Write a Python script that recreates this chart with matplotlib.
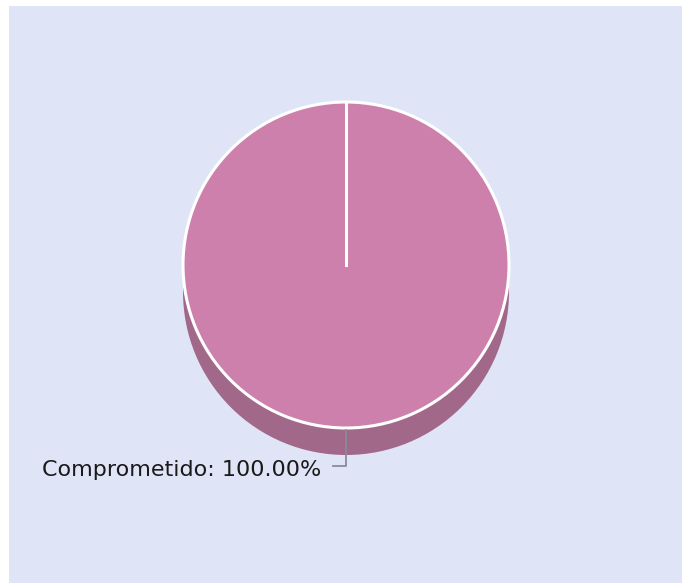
import matplotlib.pyplot as plt
from matplotlib.patches import Circle, Rectangle, Wedge

# data
labels = ["Comprometido"]
values = [100.0]
colors = ["#cd80ab"]
shade_colors = ["#a2688a"]

W, H = 684, 583
fig = plt.figure(figsize=(W / 100, H / 100), dpi=100)
ax = fig.add_axes([0, 0, 1, 1])
ax.set_xlim(0, W)
ax.set_ylim(H, 0)
ax.axis("off")

# plot area background
ax.add_patch(Rectangle((9, 6), 673, 580, facecolor="#e0e4f7", edgecolor="none"))

cx, cy, r, depth = 346, 265, 163, 27
total = sum(values)

# 3D side
start = 90
for v, c, sc in zip(values, colors, shade_colors):
    ax.add_patch(Circle((cx, cy + depth), r, facecolor=sc, edgecolor="none"))
    ax.add_patch(Rectangle((cx - r, cy), 2 * r, depth, facecolor=sc, edgecolor="none"))

# top face
for v, c in zip(values, colors):
    ang = 360 * v / total
    ax.add_patch(Wedge((cx, cy), r, start - ang, start, facecolor=c,
                       edgecolor="white", linewidth=2.2))
    # slice boundary line
    ax.plot([cx, cx], [cy, cy - r], color="white", lw=2.2)
    start -= ang

# label with leader line
ax.plot([cx, cx, 333], [cy + r + 2, 466, 466], color="#8a8a99", lw=1.3)
for lab, v in zip(labels, values):
    ax.text(42, 470, f"{lab}: {v:.2f}%", fontsize=16, color="#1a1a1a",
            ha="left", va="center", family="DejaVu Sans")

fig.savefig("out.png", dpi=100)
